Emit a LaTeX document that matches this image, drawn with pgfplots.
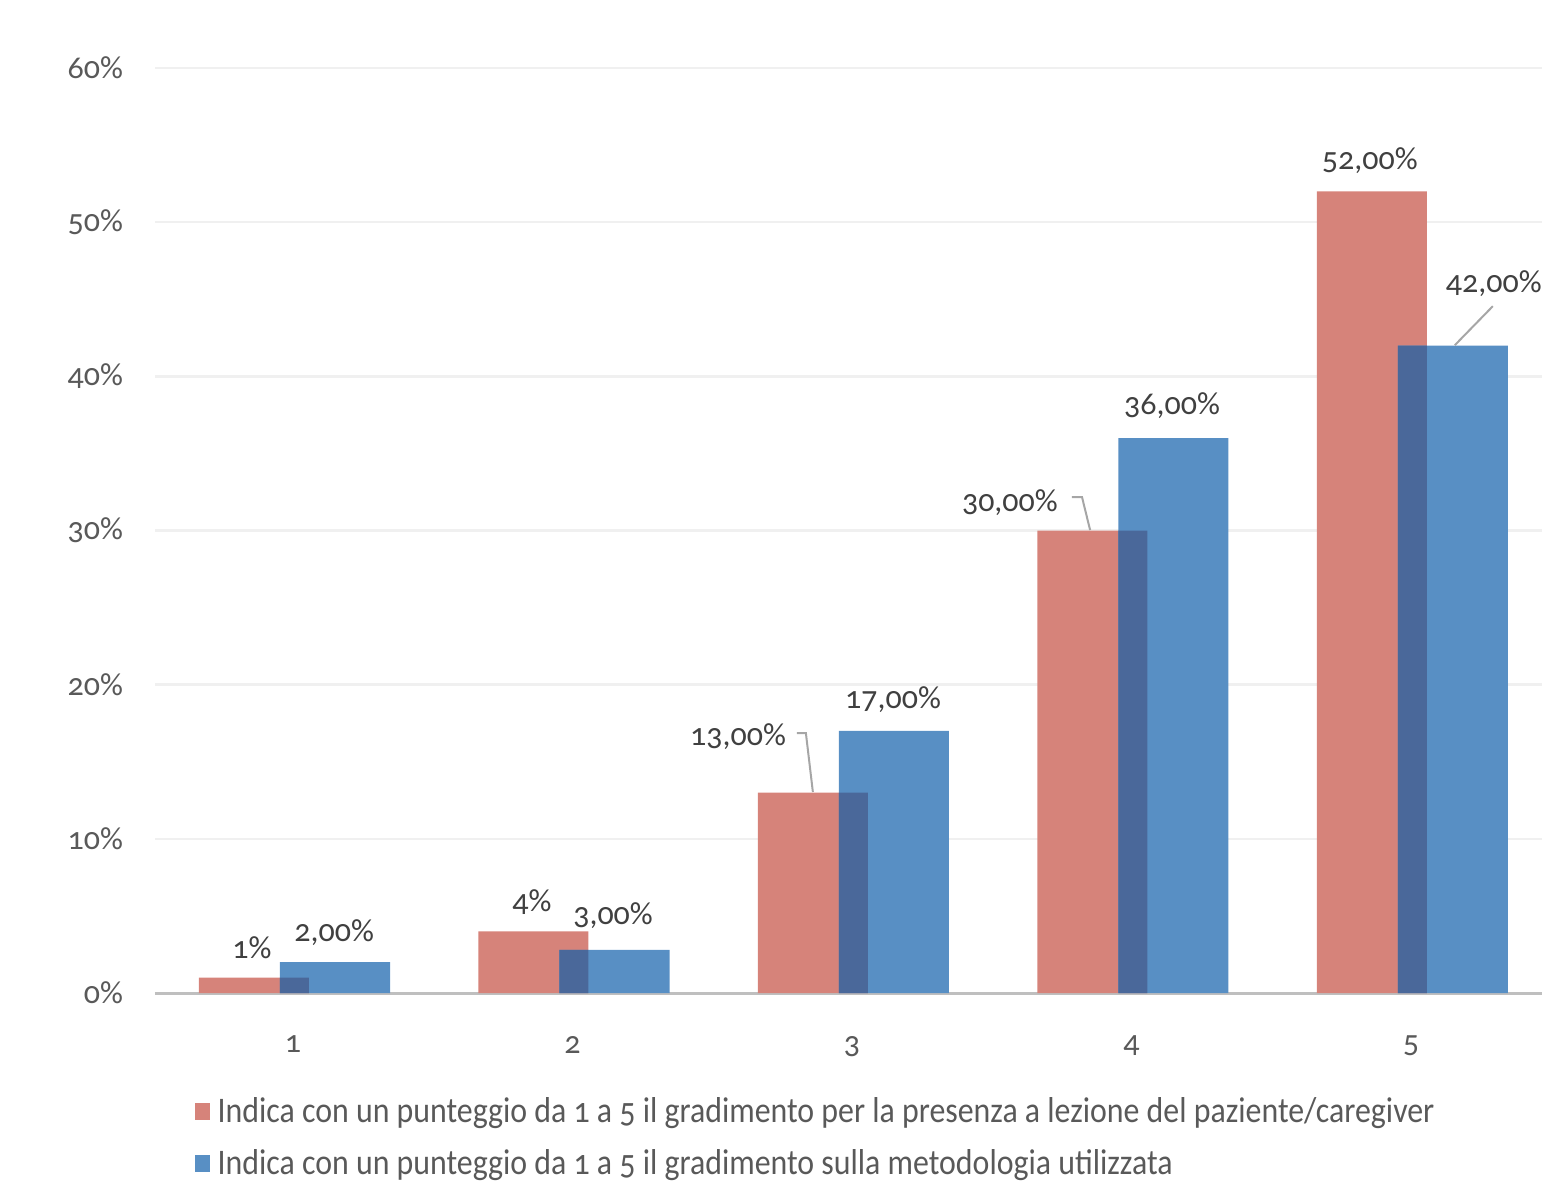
\documentclass[border=0pt]{standalone}
\usepackage{pgfplots}
\pgfplotsset{compat=1.18}
\usepackage{fontspec}
\setmainfont{Carlito}[Numbers=OldStyle]
\definecolor{redbar}{RGB}{214,131,122}
\definecolor{bluebar}{RGB}{88,143,196}
\definecolor{darkbar}{RGB}{74,104,154}
\definecolor{gridc}{RGB}{240,240,240}
\definecolor{axisc}{RGB}{191,191,191}
\definecolor{txt}{RGB}{64,64,64}
\definecolor{tick}{RGB}{89,89,89}
\begin{document}
\begin{tikzpicture}
\path[use as bounding box] (-77.5pt,-96pt) rectangle (693.5pt,496.5pt);
\begin{axis}[
  at={(0,0)}, anchor=south west,
  scale only axis, width=693.5pt, height=462.5pt,
  xmin=0.506, xmax=5.469, ymin=0, ymax=60,
  axis x line=bottom, axis y line=left,
  x axis line style={draw=axisc, line width=1.5pt, -},
  y axis line style={draw=none},
  xtick={1,2,3,4,5}, xticklabels={1,2,3,4,5},
  ytick={0,10,20,30,40,50,60},
  yticklabels={0\%,10\%,20\%,30\%,40\%,50\%,60\%},
  major tick length=0pt,
  ymajorgrids, grid style={draw=gridc, line width=1.2pt},
  tick label style={font=\fontsize{16}{18}\selectfont, text=tick},
  yticklabel style={xshift=-12.5pt},
  xticklabel style={yshift=-18pt},
  clip=false,
  legend style={at={(0.024,-0.104)}, anchor=north west, draw=none, fill=none,
    font=\fontsize{18}{21}\selectfont, text=tick, row sep=8pt,
    legend cell align=left},
  legend image code/.code={\fill[#1] (0pt,-4pt) rectangle (7.5pt,4.5pt);},
]
\addplot[ybar, bar width=0.394, bar shift=-0.14, fill=redbar, draw=none]
  coordinates {(1,1) (2,4) (3,13) (4,30) (5,52)};
\addlegendentry{\hspace{2pt}\scalebox{0.885}[1]{Indica con un punteggio da 1 a 5 il gradimento per la presenza a lezione del paziente/caregiver}}
\addplot[ybar, bar width=0.394, bar shift=0.15, fill=bluebar, draw=none]
  coordinates {(1,2) (2,2.8) (3,17) (4,36) (5,42)};
\addlegendentry{\hspace{2pt}\scalebox{0.885}[1]{Indica con un punteggio da 1 a 5 il gradimento sulla metodologia utilizzata}}
\addplot[ybar, bar width=0.104, bar shift=0.005, fill=darkbar, draw=none, forget plot]
  coordinates {(1,1) (2,2.8) (3,13) (4,30) (5,42)};
% data labels
\begin{scope}[every node/.style={font=\fontsize{16}{18}\selectfont, text=txt, inner sep=0pt}]
\node at (axis cs:0.853,2.92) {1\%};
\node at (axis cs:1.147,3.89) {2,00\%};
\node at (axis cs:1.855,5.90) {4\%};
\node at (axis cs:2.145,4.99) {3,00\%};
\node at (axis cs:2.592,16.60) {13,00\%};
\node at (axis cs:3.147,19.0) {17,00\%};
\node at (axis cs:3.565,31.78) {30,00\%};
\node at (axis cs:4.145,38.07) {36,00\%};
\node at (axis cs:4.853,54.02) {52,00\%};
\node[anchor=west] at (axis cs:5.124,46.04) {42,00\%};
\end{scope}
\draw[gray!70, line width=1pt] (axis cs:2.803,16.86) -- (axis cs:2.835,16.86) -- (axis cs:2.860,13.04);
\draw[gray!70, line width=1pt] (axis cs:3.787,32.17) -- (axis cs:3.823,32.17) -- (axis cs:3.852,30.03);
\draw[gray!70, line width=1pt] (axis cs:5.293,44.55) -- (axis cs:5.157,42.02);
\end{axis}
\end{tikzpicture}
\end{document}
